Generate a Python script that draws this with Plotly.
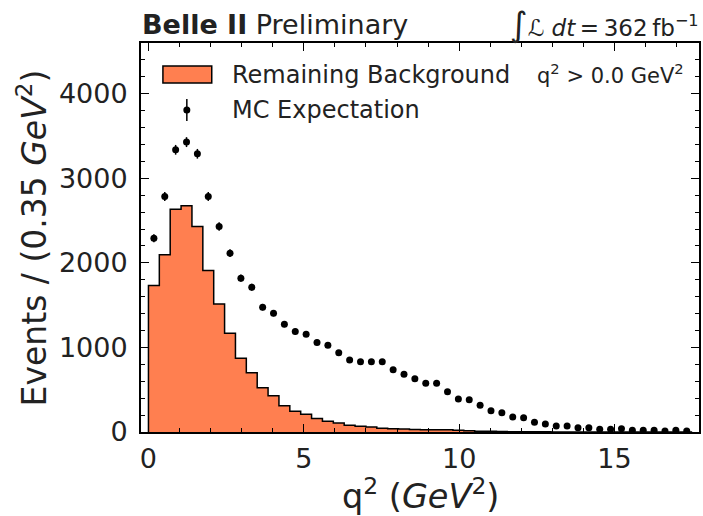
import numpy as np
import plotly.graph_objects as go

bin_width = 0.35
n_bins = 50
edges = [round(i * bin_width, 4) for i in range(n_bins + 1)]
centers = [round((i + 0.5) * bin_width, 4) for i in range(n_bins)]

# Remaining background histogram (events per bin)
background = [1732, 2095, 2635, 2675, 2430, 1909, 1515, 1168, 872, 702,
              524, 430, 311, 245, 210, 160, 128, 105, 80, 68,
              58, 45, 38, 34, 30, 26, 28, 26, 22, 14,
              10, 8, 6, 4, 3, 2, 2, 1, 1, 1,
              0, 0, 0, 0, 0, 0, 0, 0, 0, 0]

# MC expectation (points)
mc = [2292, 2785, 3337, 3428, 3290, 2785, 2430, 2115, 1819, 1712,
      1476, 1405, 1275, 1187, 1156, 1057, 1026, 938, 852, 830,
      830, 830, 735, 683, 631, 576, 576, 477, 390, 382,
      315, 252, 228, 178, 169, 115, 95, 71, 71, 51,
      51, 32, 32, 39, 20, 20, 20, 12, 20, 12]
mc_err = np.sqrt(np.array(mc, dtype=float))

x_ticks = [0, 5, 10, 15]
y_ticks = [0, 1000, 2000, 3000, 4000]

FONT = "DejaVu Sans"
CORAL = "#FF7F50"

fig = go.Figure()

# step-filled histogram
step_x = [edges[0]] + edges
step_y = [0] + background + [background[-1]]
fig.add_trace(go.Scatter(
    x=step_x, y=step_y, mode="lines", line=dict(shape="hv", color="black", width=1.5),
    fill="tozeroy", fillcolor=CORAL, hoverinfo="skip", showlegend=False))

fig.add_trace(go.Scatter(
    x=centers, y=mc, mode="markers",
    marker=dict(color="black", size=7),
    error_y=dict(type="data", array=mc_err, color="black", thickness=1.5, width=0),
    showlegend=False))

W, H = 703, 516
L, R, T, B = 141, 2, 43, 84
pw, ph = W - L - R, H - T - B

def px(xp):
    return (xp - L) / pw

def py(yp):
    return (H - B - yp) / ph

axis_common = dict(
    showline=True, linecolor="black", linewidth=2, mirror="allticks",
    ticks="inside", ticklen=8, tickwidth=1.2, tickcolor="black",
    showgrid=False, zeroline=False,
    tickfont=dict(family=FONT, size=27, color="#222"),
)

fig.update_xaxes(range=[-0.24, 17.72], tickvals=x_ticks,
                 minor=dict(ticks="inside", ticklen=4, tickwidth=1, dtick=1, tick0=0,
                            tickcolor="black", showgrid=False),
                 ticklabelstandoff=2, **axis_common)
fig.update_yaxes(range=[0, 4600], tickvals=y_ticks,
                 minor=dict(ticks="inside", ticklen=4, tickwidth=1, dtick=200, tick0=0,
                            tickcolor="black", showgrid=False),
                 ticklabelstandoff=6, **axis_common)

shapes = [
    dict(type="rect", xref="paper", yref="paper",
         x0=px(163), x1=px(212), y0=py(83), y1=py(66),
         fillcolor=CORAL, line=dict(color="black", width=1.5)),
    dict(type="line", xref="paper", yref="paper",
         x0=px(187), x1=px(187), y0=py(121), y1=py(99),
         line=dict(color="black", width=1.5)),
    dict(type="circle", xref="paper", yref="paper",
         xsizemode="pixel", ysizemode="pixel",
         xanchor=px(187), yanchor=py(110), x0=-3.5, x1=3.5, y0=-3.5, y1=3.5,
         fillcolor="black", line=dict(color="black", width=0)),
]

annotations = [
    dict(text="Remaining Background", xref="paper", yref="paper",
         x=px(230), y=py(75), xanchor="left", yanchor="middle", showarrow=False,
         font=dict(family=FONT, size=24, color="#222")),
    dict(text="MC Expectation", xref="paper", yref="paper",
         x=px(230), y=py(110), xanchor="left", yanchor="middle", showarrow=False,
         font=dict(family=FONT, size=24, color="#222")),
    dict(text="q<sup>2</sup> > 0.0 GeV<sup>2</sup>", xref="paper", yref="paper",
         x=px(688), y=py(74), xanchor="right", yanchor="middle", showarrow=False,
         font=dict(family=FONT, size=21, color="#222")),
    dict(text="<b>Belle II</b> Preliminary", xref="paper", yref="paper",
         x=px(140), y=py(25), xanchor="left", yanchor="middle", showarrow=False,
         font=dict(family=FONT, size=27, color="#222")),
    dict(text="<span style='font-size:34px'>∫</span><i>ℒ dt</i>\u2009=\u2009362\u2009fb<sup>−1</sup>",
         xref="paper", yref="paper",
         x=px(703), y=py(24), xanchor="right", yanchor="middle", showarrow=False,
         font=dict(family=FONT, size=23, color="#222")),
    dict(text="q<sup>2</sup> (<i>GeV</i><sup>2</sup>)", xref="paper", yref="paper",
         x=px(422), y=py(494), xanchor="center", yanchor="middle", showarrow=False,
         font=dict(family=FONT, size=33.5, color="#222")),
    dict(text="Events / (0.35 <i>GeV</i><sup>2</sup>)", xref="paper", yref="paper",
         x=px(33), y=py(238), xanchor="center", yanchor="middle", showarrow=False,
         textangle=-90, font=dict(family=FONT, size=33, color="#222")),
]

fig.update_layout(
    width=W, height=H, margin=dict(l=L, r=R, t=T, b=B),
    paper_bgcolor="white", plot_bgcolor="white",
    shapes=shapes, annotations=annotations, showlegend=False,
)

fig.write_html("out.html")
